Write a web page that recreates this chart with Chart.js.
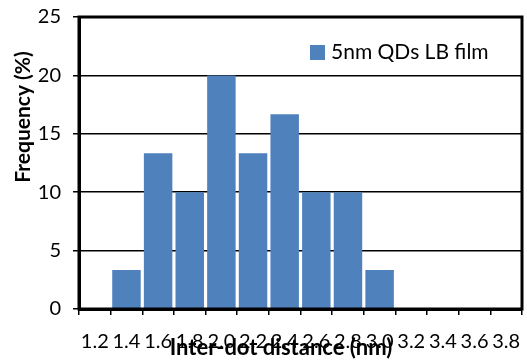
<!DOCTYPE html>
<html>
<head>
<meta charset="utf-8">
<script src="https://cdn.jsdelivr.net/npm/chart.js@4"></script>
<style>
  html, body { margin: 0; padding: 0; background: #fff; }
  #wrap { width: 527px; height: 363px; }
</style>
</head>
<body>
<div id="wrap"><canvas id="myChart"></canvas></div>
<script>
// categories (inter-dot distance, nm)
const distances = ["1.2", "1.4", "1.6", "1.8", "2.0", "2.2", "2.4", "2.6", "2.8", "3.0", "3.2", "3.4", "3.6", "3.8"];
// frequency in %
const frequency = [0, 3.33, 13.33, 10, 20, 13.33, 16.67, 10, 10, 3.33, 0, 0, 0, 0];
const seriesName = "5nm QDs LB film";
const yTitle = "Frequency (%)";
const xTitle = "Inter-dot distance (nm)";

const font = "Lato, 'Liberation Sans', sans-serif";

// frame, legend box and axis titles drawn at fixed spots like the original
const extras = {
  id: "extras",
  afterDraw(chart) {
    const ctx = chart.ctx;
    const a = chart.chartArea;
    ctx.save();
    ctx.strokeStyle = "#000";
    ctx.lineWidth = 3;
    ctx.strokeRect(a.left, a.top, a.right - a.left, a.bottom - a.top);

    // legend
    ctx.fillStyle = chart.data.datasets[0].backgroundColor;
    ctx.fillRect(310, 45, 15, 15);
    ctx.fillStyle = "#000";
    ctx.font = "21px " + font;
    ctx.textBaseline = "middle";
    ctx.textAlign = "left";
    ctx.fillText(chart.data.datasets[0].label, 331, 52);

    // x title
    ctx.font = "bold 22px " + font;
    ctx.textAlign = "center";
    ctx.fillText(xTitle, 281, 348);

    // y title
    ctx.translate(23, 117);
    ctx.rotate(-Math.PI / 2);
    ctx.font = "bold 21px " + font;
    ctx.fillText(yTitle, 0, 0);
    ctx.restore();
  }
};

const data = {
  labels: distances,
  datasets: [
    {
      label: seriesName,
      data: frequency,
      backgroundColor: "#4F81BD",
      barPercentage: 0.9,
      categoryPercentage: 1.0
    }
  ]
};

const config = {
  type: "bar",
  data: data,
  plugins: [extras],
  options: {
    responsive: true,
    maintainAspectRatio: false,
    animation: false,
    layout: { padding: { top: 17, right: 5, left: 0, bottom: 0 } },
    plugins: {
      legend: { display: false },
      tooltip: { enabled: false }
    },
    scales: {
      x: {
        afterFit(scale) {
          scale.height = 54;
          scale.paddingLeft = 0;
          scale.paddingRight = 0;
        },
        border: { color: "#000", width: 3 },
        grid: {
          offset: true,
          drawOnChartArea: false,
          color: "#000",
          lineWidth: 1.5,
          tickLength: 6
        },
        ticks: {
          color: "#000",
          font: { family: font, size: 20 },
          padding: 15,
          maxRotation: 0,
          autoSkip: false
        }
      },
      y: {
        min: 0,
        max: 25,
        afterFit(scale) {
          scale.width = 79;
          scale.paddingTop = 0;
          scale.paddingBottom = 0;
        },
        border: { color: "#000", width: 3 },
        grid: {
          color: "#000",
          lineWidth: 1.5,
          tickLength: 6
        },
        ticks: {
          stepSize: 5,
          color: "#000",
          font: { family: font, size: 20 },
          padding: 12
        }
      }
    }
  }
};

new Chart(document.getElementById("myChart"), config);
</script>
</body>
</html>
